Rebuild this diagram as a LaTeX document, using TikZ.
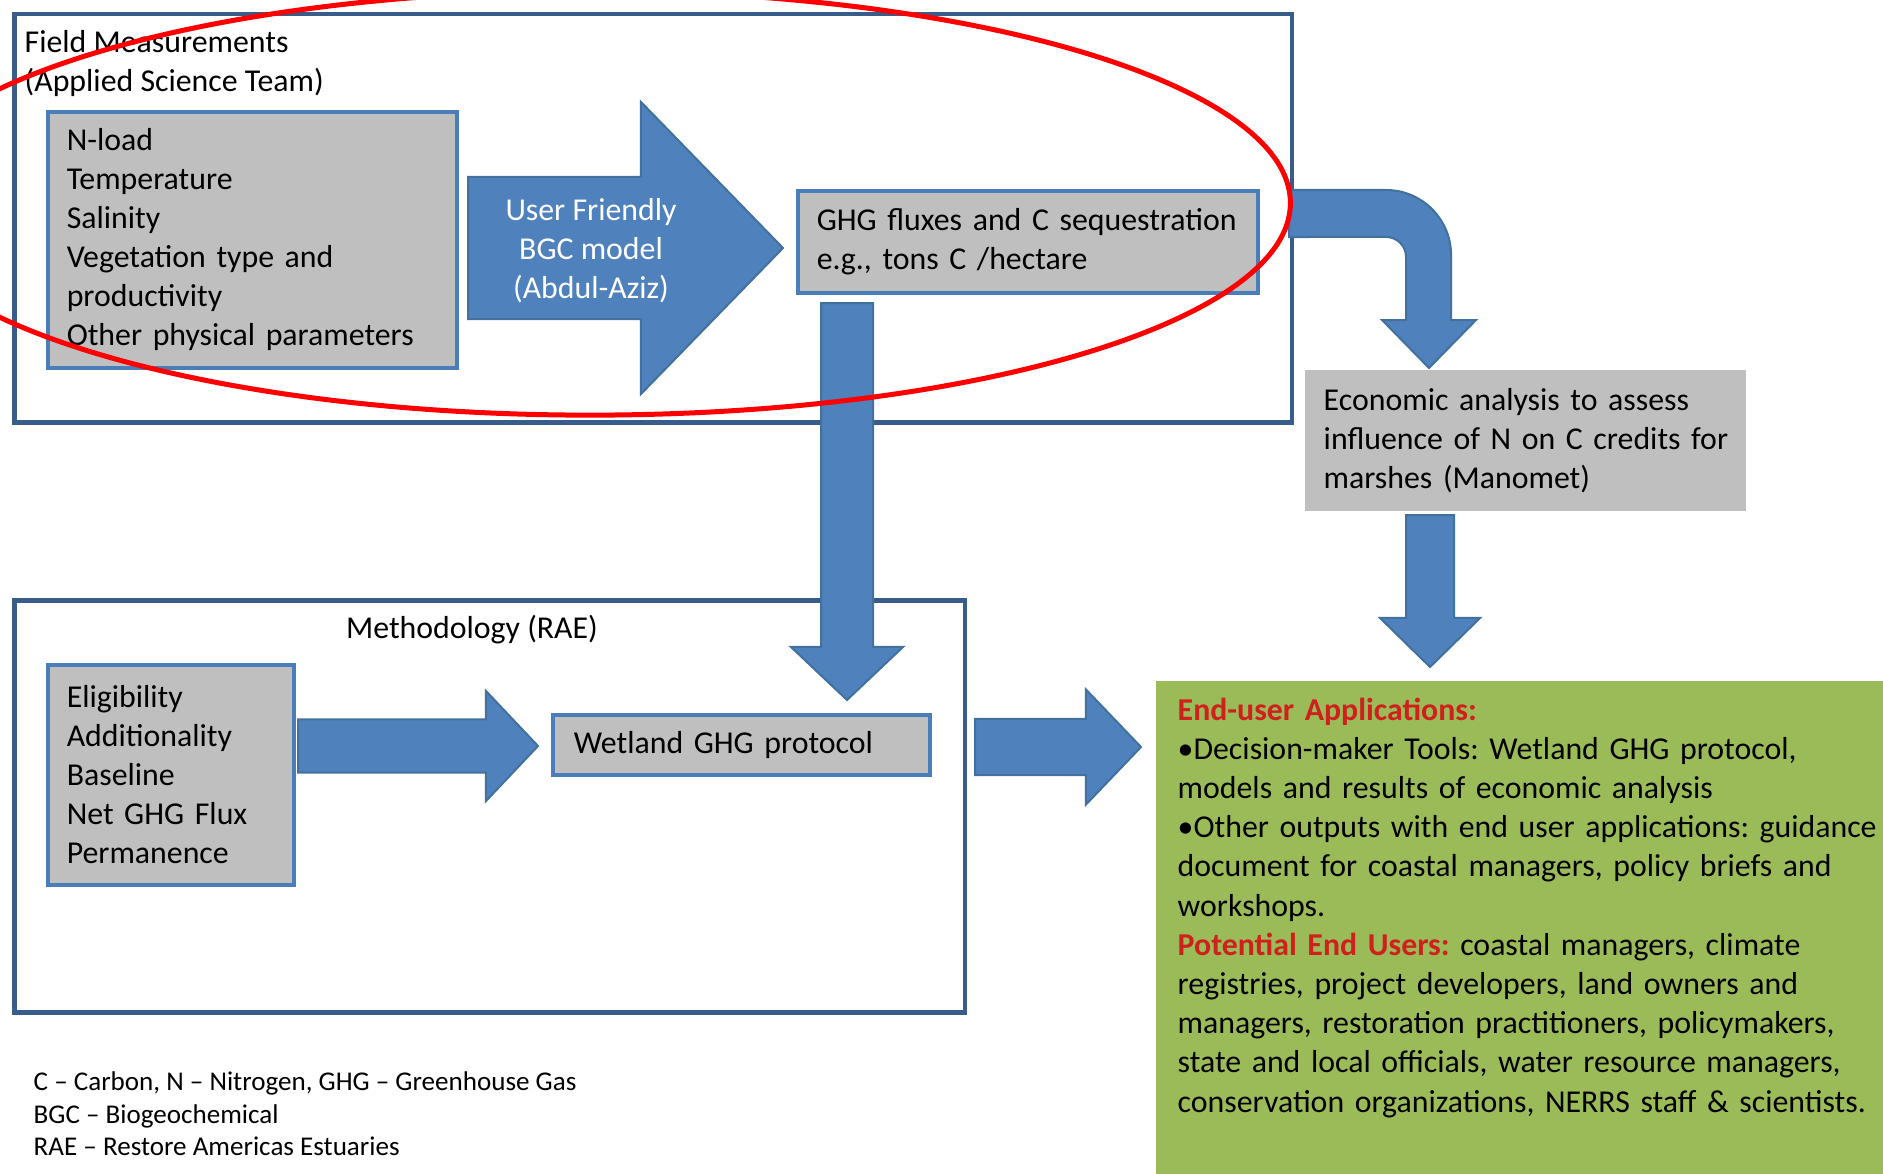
\documentclass[tikz,border=0pt]{standalone}
\usepackage{fontspec}
\setmainfont{Carlito}
\usetikzlibrary{positioning,calc}

\definecolor{arrowblue}{HTML}{4F81BD}
\definecolor{arrowedge}{HTML}{41719C}
\definecolor{frameblue}{HTML}{385D8A}
\definecolor{boxgray}{HTML}{BFBFBF}
\definecolor{boxedge}{HTML}{4A7EBB}
\definecolor{appgreen}{HTML}{9BBB59}
\definecolor{headred}{HTML}{D0201C}
\newcommand\redhead[1]{\textcolor{headred}{\textbf{#1}}}
\frenchspacing

\begin{document}
\begin{tikzpicture}[
  x=0.01cm, y=-0.01cm,
  font=\fontsize{9.05}{11.1}\selectfont,
  panel/.style={draw=frameblue, line width=0.045cm, anchor=north west, inner sep=0pt},
  databox/.style={draw=boxedge, line width=0.035cm, fill=boxgray, anchor=north west, align=left, inner xsep=0.19cm, inner ysep=0pt},
  plainbox/.style={fill=boxgray, anchor=north west, align=left, inner xsep=0.19cm, inner ysep=0pt},
  appbox/.style={fill=appgreen, anchor=north west, inner sep=0pt},
  note/.style={anchor=north west, align=left, inner sep=0pt},
  flow/.style={fill=arrowblue, draw=arrowedge, line width=0.02cm},
  flowr/.style n args={3}{flow, to path={let \p1=(\tikztostart), \p2=(\tikztotarget) in
    (\x1,\y2+#1) -- (\x2-#3,\y2+#1) -- (\x2-#3,\y2+#2) -- (\p2) -- (\x2-#3,\y2-#2) -- (\x2-#3,\y2-#1) -- (\x1,\y2-#1) -- cycle}},
  flowd/.style n args={3}{flow, to path={let \p1=(\tikztostart), \p2=(\tikztotarget) in
    (\x2-#1,\y1) -- (\x2-#1,\y2+#3) -- (\x2-#2,\y2+#3) -- (\p2) -- (\x2+#2,\y2+#3) -- (\x2+#1,\y2+#3) -- (\x2+#1,\y1) -- cycle}}
]
\useasboundingbox (0,0) rectangle (1883,1173);

\node[panel, minimum width=12.77cm, minimum height=4.08cm] (field) at (12,12) {};
\node[panel, minimum width=9.50cm, minimum height=4.12cm] (method) at (12,598) {};
\node[note] (fieldtitle) at (24,30) {Field Measurements\\(Applied Science Team)};
\node (methodtitle) at (472,630) {Methodology (RAE)};

\node[databox, minimum width=4.09cm, minimum height=2.56cm, text width=3.71cm] (inputs) at (46,110) {N-load\\Temperature\\Salinity\\Vegetation type and\\productivity\\\mbox{Other physical parameters}};
\node[databox, minimum width=4.60cm, minimum height=1.02cm, text width=4.22cm] (ghg) at (796,189) {\mbox{GHG fluxes and C sequestration}\\e.g., tons C /hectare};
\node[plainbox, minimum width=4.41cm, minimum height=1.41cm, text width=4.03cm] (econ) at (1304,369) {\mbox{Economic analysis to assess}\\\mbox{influence of N on C credits for}\\marshes (Manomet)};
\node[databox, minimum width=2.46cm, minimum height=2.20cm, text width=2.08cm] (criteria) at (46,663) {Eligibility\\Additionality\\Baseline\\Net GHG Flux\\Permanence};
\node[databox, minimum width=3.77cm, minimum height=0.60cm, text width=3.35cm, inner xsep=0.21cm] (protocol) at (551,713) {Wetland GHG protocol};
\node[appbox, minimum width=7.40cm, minimum height=5.10cm] (apps) at (1155,680) {};

\coordinate (bgc tail) at (468,248);
\coordinate (bgc tip) at (783,248);
\coordinate (ghg tail) at (847,303);
\coordinate (protocol tip) at (847,700);
\coordinate (criteria tail) at (298,746);
\coordinate (criteria tip) at (538,746);
\coordinate (method tail) at (975,747);
\coordinate (apps tip) at (1141,747);
\coordinate (econ tail) at (1430,515);
\coordinate (econ tip) at (1430,667);
\coordinate (bend start) at (1289,190);
\coordinate (bend tip) at (1429,368);

\path[flowr={0.71cm}{1.46cm}{1.42cm}] (bgc tail) to (bgc tip);
\path[flowd={0.26cm}{0.56cm}{0.53cm}] (ghg tail) to (protocol tip);
\path[flowr={0.265cm}{0.55cm}{0.52cm}] (criteria tail) to (criteria tip);
\path[flowr={0.28cm}{0.575cm}{0.55cm}] (method tail) to (apps tip);
\path[flowd={0.24cm}{0.50cm}{0.49cm}] (econ tail) to (econ tip);
\path[flow] (bend start) -- (1386,190) arc[start angle=90, end angle=0, radius=0.65cm] -- (1451,320) -- (1476,320)
  -- (bend tip) -- (1382,320) -- (1406,320) -- (1406,257) arc[start angle=0, end angle=90, radius=0.20cm] -- (1289,237) -- cycle;

\node[text=white, align=center] (bgctext) at (591,251) {User Friendly\\BGC model\\(Abdul-Aziz)};

\node[note, text width=7.5cm, font=\fontsize{9.05}{11.15}\selectfont] (appstext) at (1177,697) {\redhead{End-user Applications:}\\
•Decision-maker Tools: Wetland GHG protocol,\\
models and results of economic analysis\\
•Other outputs with end user applications: guidance\\
document for coastal managers, policy briefs and\\
workshops.\\
\redhead{Potential End Users:} coastal managers, climate\\
registries, project developers, land owners and\\
managers, restoration practitioners, policymakers,\\
state and local officials, water resource managers,\\
conservation organizations, NERRS staff \& scientists.};

\node[note, font=\fontsize{7.7}{9.3}\selectfont] (legend) at (33,1071) {C – Carbon, N – Nitrogen, GHG – Greenhouse Gas\\BGC – Biogeochemical\\RAE – Restore Americas Estuaries};

\draw[red, line width=0.05cm] (590,203) ellipse [x radius=7cm, y radius=2.12cm];
\end{tikzpicture}
\end{document}
